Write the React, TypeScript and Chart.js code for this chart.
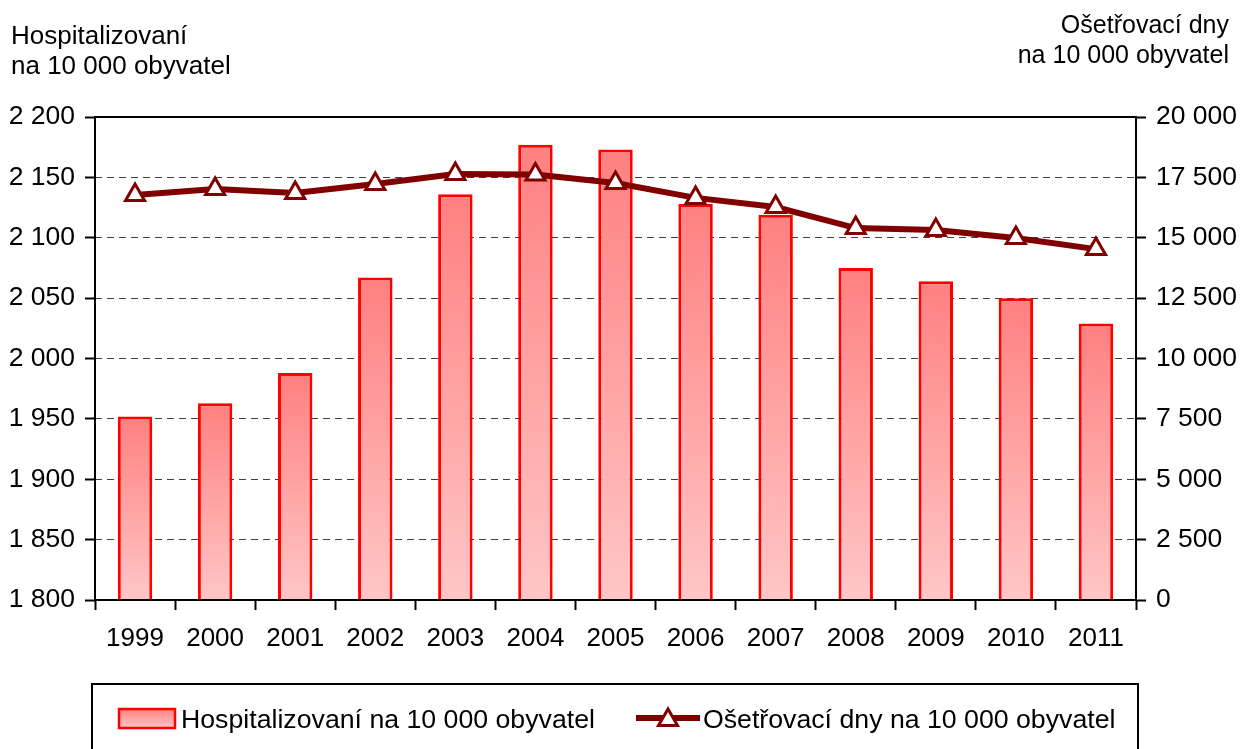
import React, { useEffect, useRef } from "react";
import { Chart, registerables } from "chart.js";

Chart.register(...registerables);

const years = ["1999", "2000", "2001", "2002", "2003", "2004", "2005", "2006", "2007", "2008", "2009", "2010", "2011"];
const hospitalized = [1952, 1963, 1988, 2067, 2136, 2177, 2173, 2128, 2119, 2075, 2064, 2050, 2029];
const careDays = [16770, 17020, 16850, 17230, 17640, 17620, 17270, 16650, 16270, 15400, 15320, 14990, 14530];
const leftTicks = [1800, 2200, 50];
const rightTicks = [0, 20000, 2500];
const barLabel = "Hospitalizovaní na 10 000 obyvatel";
const lineLabel = "Ošetřovací dny na 10 000 obyvatel";
const leftTitle = ["Hospitalizovaní", "na 10 000 obyvatel"];
const rightTitle = ["Ošetřovací dny", "na 10 000 obyvatel"];

const FONT = "'Liberation Sans', Arial, sans-serif";
const BAR_TOP = "#FF8080";
const BAR_BOTTOM = "#FFC6C6";
const LINE = "#800000";

const fmt = (v: number) => String(v).replace(/\B(?=(\d{3})+(?!\d))/g, " ");

function drawTriangle(ctx: CanvasRenderingContext2D, x: number, y: number, r: number) {
  ctx.beginPath();
  ctx.moveTo(x, y - r);
  ctx.lineTo(x + r * Math.sin(Math.PI / 3), y + r * 0.5);
  ctx.lineTo(x - r * Math.sin(Math.PI / 3), y + r * 0.5);
  ctx.closePath();
  ctx.fillStyle = "#fff";
  ctx.fill();
  ctx.lineWidth = 3;
  ctx.strokeStyle = LINE;
  ctx.stroke();
}

const framePlugin = {
  id: "frame",
  afterDatasetsDraw(chart: any) {
    const { ctx, chartArea: a } = chart;
    ctx.save();
    ctx.strokeStyle = "#000";
    ctx.lineWidth = 2;
    ctx.strokeRect(a.left, a.top, a.right - a.left, a.bottom - a.top);
    ctx.restore();
  },
  afterDraw(chart: any) {
    const ctx: CanvasRenderingContext2D = chart.ctx;
    ctx.save();
    ctx.fillStyle = "#000";
    ctx.textBaseline = "alphabetic";
    ctx.font = `26px ${FONT}`;
    ctx.textAlign = "left";
    ctx.fillText(leftTitle[0], 11, 44);
    ctx.fillText(leftTitle[1], 11, 74);
    ctx.font = `25px ${FONT}`;
    ctx.textAlign = "right";
    ctx.fillText(rightTitle[0], 1229, 33);
    ctx.fillText(rightTitle[1], 1229, 63);

    // legend box
    ctx.lineWidth = 2;
    ctx.strokeStyle = "#000";
    ctx.strokeRect(92, 684, 1046, 120);
    // bar swatch
    const g = ctx.createLinearGradient(0, 709, 0, 728);
    g.addColorStop(0, BAR_TOP);
    g.addColorStop(1, BAR_BOTTOM);
    ctx.fillStyle = g;
    ctx.fillRect(119, 709, 56, 19);
    ctx.strokeStyle = "#FF0000";
    ctx.lineWidth = 2.5;
    ctx.strokeRect(119, 709, 56, 19);
    ctx.fillStyle = "#000";
    ctx.textAlign = "left";
    ctx.font = `26.7px ${FONT}`;
    ctx.fillText(barLabel, 181, 728);
    // line swatch
    ctx.strokeStyle = LINE;
    ctx.lineWidth = 6;
    ctx.beginPath();
    ctx.moveTo(636, 718);
    ctx.lineTo(700, 718);
    ctx.stroke();
    drawTriangle(ctx, 668, 720, 11);
    ctx.fillStyle = "#000";
    ctx.fillText(lineLabel, 703, 728);
    ctx.restore();
  },
};

export default function App() {
  const ref = useRef<HTMLCanvasElement | null>(null);
  useEffect(() => {
    if (!ref.current) return;
    const barBg = (c: any) => {
      const chart = c.chart;
      const area = chart.chartArea;
      if (c.type !== "data" || !area) return BAR_TOP;
      const top = chart.scales.y.getPixelForValue(c.raw);
      const g = chart.ctx.createLinearGradient(0, top, 0, area.bottom);
      g.addColorStop(0, BAR_TOP);
      g.addColorStop(1, BAR_BOTTOM);
      return g;
    };
    const chart = new Chart(ref.current, {
      type: "bar",
      data: {
        labels: years,
        datasets: [
          {
            type: "line",
            label: lineLabel,
            data: careDays,
            yAxisID: "y1",
            order: 0,
            borderColor: LINE,
            borderWidth: 6,
            tension: 0,
            pointStyle: "triangle",
            pointRadius: 11,
            pointBackgroundColor: "#fff",
            pointBorderColor: LINE,
            pointBorderWidth: 3,
          } as any,
          {
            type: "bar",
            label: barLabel,
            data: hospitalized,
            yAxisID: "y",
            order: 1,
            backgroundColor: barBg,
            borderColor: "#FF0000",
            borderWidth: 3,
            categoryPercentage: 1,
            barPercentage: 0.43,
          } as any,
        ],
      },
      options: {
        responsive: false,
        animation: false,
        devicePixelRatio: 1,
        layout: { padding: { top: 117, left: 0, right: 0, bottom: 0 } },
        plugins: { legend: { display: false }, tooltip: { enabled: false } },
        scales: {
          x: {
            offset: true,
            grid: {
              display: true,
              drawOnChartArea: false,
              drawTicks: true,
              tickLength: 10,
              tickColor: "#000",
              tickWidth: 2,
              offset: true,
            },
            border: { display: false },
            ticks: { color: "#000", font: { family: FONT, size: 26 }, padding: 13, maxRotation: 0 },
            afterFit: (s: any) => { s.height = 149; },
          },
          y: {
            position: "left",
            min: leftTicks[0],
            max: leftTicks[1],
            ticks: {
              stepSize: leftTicks[2],
              color: "#000",
              font: { family: FONT, size: 26.5 },
              padding: 10,
              callback: (v: any) => fmt(Number(v)),
            },
            grid: {
              color: (c: any) => (c.tick && (c.tick.value === 1800 || c.tick.value === 2200) ? "rgba(0,0,0,0)" : "#404040"),
              lineWidth: 1,
              drawTicks: true,
              tickLength: 10,
              tickColor: "#000",
              tickWidth: 2,
              tickBorderDash: [],
            },
            border: { display: false, dash: [7, 5] },
            afterFit: (s: any) => { s.width = 95; },
          },
          y1: {
            position: "right",
            min: rightTicks[0],
            max: rightTicks[1],
            ticks: {
              stepSize: rightTicks[2],
              color: "#000",
              font: { family: FONT, size: 26.5 },
              padding: 10,
              callback: (v: any) => fmt(Number(v)),
            },
            grid: {
              drawOnChartArea: false,
              drawTicks: true,
              tickLength: 10,
              tickColor: "#000",
              tickWidth: 2,
            },
            border: { display: false },
            afterFit: (s: any) => { s.width = 104; },
          },
        },
      } as any,
      plugins: [framePlugin],
    });
    return () => chart.destroy();
  }, []);
  return (
    <div style={{ position: "absolute", left: 0, top: 0, width: 1240, height: 749, background: "#fff" }}>
      <canvas ref={ref} width={1240} height={749} />
    </div>
  );
}
